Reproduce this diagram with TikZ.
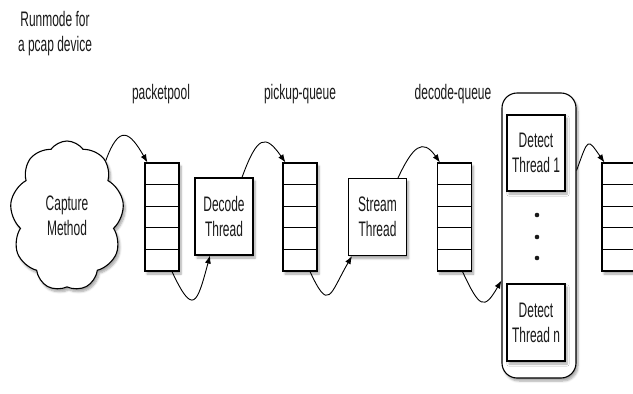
\documentclass[tikz,border=0pt]{standalone}
\usepackage{fontspec}
\setmainfont{Liberation Sans}[FakeStretch=0.57]
\usetikzlibrary{shapes.symbols,shadows.blur,arrows.meta,calc}

\begin{document}
\begin{tikzpicture}[x=1pt,y=1pt,
  lbl/.style={font=\fontsize{21}{25}\selectfont, align=center, text=black!90},
  soft/.style={blur shadow={shadow blur steps=6, shadow xshift=2pt, shadow yshift=-3pt, shadow opacity=35}},
  threadbox/.style={draw, fill=white, line width=1.1pt, minimum width=58pt, minimum height=77pt,
    inner sep=0pt, lbl, soft},
  qbox/.style={draw, fill=white, line width=1.1pt, minimum width=34pt, minimum height=108pt,
    inner sep=0pt, soft},
  link/.style={-{Latex[length=8pt,width=6pt]}, line width=0.9pt}
]
\useasboundingbox (0,0) rectangle (633,-394);
\clip (0,0) rectangle (633,-394);

% headings
\node[lbl] (title) at (55,-34) {Runmode for\\a pcap device};
\node[lbl] (lpool) at (161,-94) {packetpool};
\node[lbl] (lpick) at (300,-94) {pickup-queue};
\node[lbl] (ldec)  at (453,-94) {decode-queue};

% capture source
\node[cloud, cloud puffs=9, cloud puff arc=110, aspect=0.75, draw, fill=white, line width=1.1pt,
  minimum width=114pt, minimum height=150pt, lbl, soft] (cloud) at (67,-216) {Capture\\Method};

% queues
\node[qbox] (q1) at (162,-217) {};
\node[qbox] (q2) at (300,-217) {};
\node[qbox] (q3) at (454.5,-217) {};
\node[qbox] (q4) at (619,-217) {};
\foreach \q in {q1,q2,q3,q4}
  \foreach \k in {1,...,4}
    \draw[line width=1.1pt] ($(\q.north west)!\k/5!(\q.south west)$) -- ($(\q.north east)!\k/5!(\q.south east)$);

% threads
\node[threadbox] (decode) at (224,-216.5) {Decode\\Thread};
\node[threadbox] (stream) at (377.5,-217) {Stream\\Thread};

% detect thread group
\node[draw, fill=white, line width=1.1pt, rounded corners=15pt, minimum width=74pt,
  minimum height=285pt, inner sep=0pt, soft] (group) at (539,-235.5) {};
\node[threadbox, minimum height=76pt] (dt1) at (536,-153) {Detect\\Thread 1};
\node[threadbox] (dtn) at (536,-322.5) {Detect\\Thread n};
\foreach \yy/\nm in {215/d1,237/d2,258/d3}
  \fill[black!90] (537,-\yy) circle (2.3pt) coordinate (\nm);

% flow
\draw[link] (cloud.55) .. controls +(70:40) and +(120:35) .. ([xshift=3pt]q1.north west);
\draw[link] ([xshift=10pt]q1.south) .. controls +(-65:50) and +(-105:50) .. ([xshift=-14pt]decode.south);
\draw[link] ([xshift=18pt]decode.north) .. controls +(70:45) and +(125:35) .. ([xshift=3pt]q2.north west);
\draw[link] ([xshift=10pt]q2.south) .. controls +(-65:45) and +(-120:45) .. ([xshift=4pt]stream.south west);
\draw[link] ([xshift=20.5pt]stream.north) .. controls +(65:35) and +(125:30) .. ([xshift=3pt]q3.north west);
\draw[link] ([xshift=8pt]q3.south) .. controls +(-65:40) and +(-120:35) .. ([yshift=-45pt]group.west);
\draw[link] ([yshift=65pt]group.east) .. controls +(70:35) and +(125:30) .. ([xshift=3pt]q4.north west);
\end{tikzpicture}
\end{document}
